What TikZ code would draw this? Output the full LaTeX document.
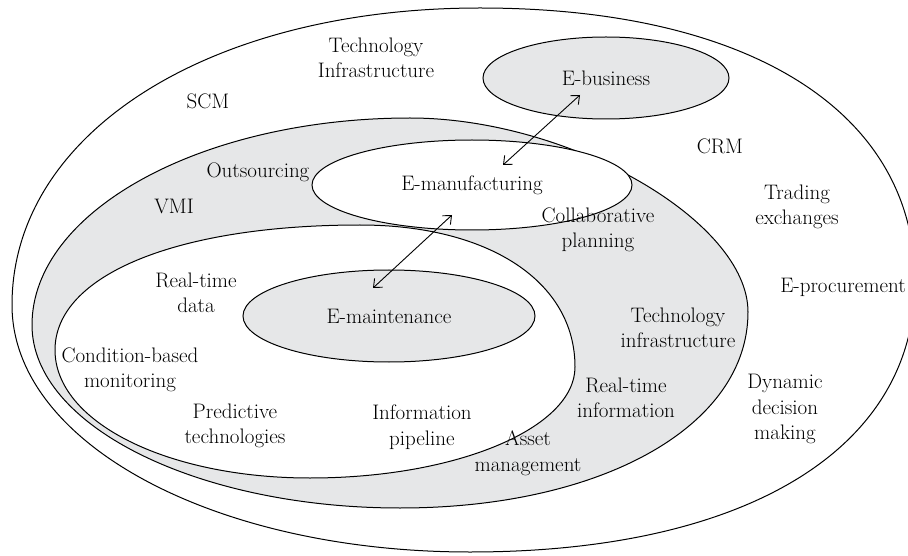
\documentclass[tikz,border=0pt]{standalone}
\usetikzlibrary{arrows.meta,shapes.geometric}
\definecolor{shade}{HTML}{E6E7E8}
\begin{document}
\begin{tikzpicture}[x=1pt,y=-1pt,
  outline/.style={draw=black,line width=1pt},
  lbl/.style={align=center,font=\fontsize{21}{25.5}\selectfont,inner sep=0pt},
  core/.style={outline,ellipse,inner sep=0pt,lbl},
  link/.style={line width=0.9pt,{Straight Barb[length=7pt,width=12pt]}-{Straight Barb[length=7pt,width=12pt]}}]
\useasboundingbox (0,0) rectangle (908,556);
\clip (0,0) rectangle (908,556);
% outer region
\draw[outline,fill=white] (12,305)
  .. controls (12,133) and (209,8) .. (480,8)
  .. controls (750,8) and (915,112) .. (915,282)
  .. controls (915,449) and (746,552) .. (470,552)
  .. controls (214,552) and (12,443) .. (12,305) -- cycle;
% shaded middle region
\draw[outline,fill=shade] (32,325)
  .. controls (32,211) and (202,118) .. (410,118)
  .. controls (569,118) and (748,221) .. (748,312)
  .. controls (748,426) and (602,508) .. (400,508)
  .. controls (198,508) and (32,426) .. (32,325) -- cycle;
% inner white region
\draw[outline,fill=white] (55,350)
  .. controls (55,275) and (177,225) .. (360,225)
  .. controls (488,225) and (575,281) .. (575,367)
  .. controls (575,428) and (457,478) .. (310,478)
  .. controls (167,478) and (55,422) .. (55,350) -- cycle;
% core ellipses
\node[core,fill=shade,minimum width=246pt,minimum height=82pt] (eb) at (606,78) {E-business};
\node[core,fill=white,minimum width=320pt,minimum height=90pt] (em) at (472,185) {E-manufacturing};
\node[core,fill=shade,minimum width=292pt,minimum height=92pt] (ema) at (389,316) {E-maintenance};
% links between the layers
\coordinate (a1) at (503,165);
\coordinate (b1) at (580,95);
\coordinate (a2) at (373,288);
\coordinate (b2) at (452,215);
\draw[link] (a1) -- (b1);
\draw[link] (a2) -- (b2);
% labels
\node[lbl] (t1) at (376,58) {Technology\\Infrastructure};
\node[lbl] (t2) at (208,101) {SCM};
\node[lbl] (t3) at (720,146) {CRM};
\node[lbl] (t4) at (258,172) {Outsourcing};
\node[lbl] (t5) at (174,206) {VMI};
\node[lbl] (t6) at (797,207) {Trading\\exchanges};
\node[lbl] (t7) at (598,230) {Collaborative\\planning};
\node[lbl] (t8) at (196,293) {Real-time\\data};
\node[lbl] (t9) at (843,287) {E-procurement};
\node[lbl] (t10) at (678,328) {Technology\\infrastructure};
\node[lbl] (t11) at (130,370) {Condition-based\\monitoring};
\node[lbl] (t12) at (785,409) {Dynamic\\decision\\making};
\node[lbl] (t13) at (626,398) {Real-time\\information};
\node[lbl] (t14) at (235,426) {Predictive\\technologies};
\node[lbl] (t15) at (422,427) {Information\\pipeline};
\node[lbl] (t16) at (528,453) {Asset\\management};
\end{tikzpicture}
\end{document}
